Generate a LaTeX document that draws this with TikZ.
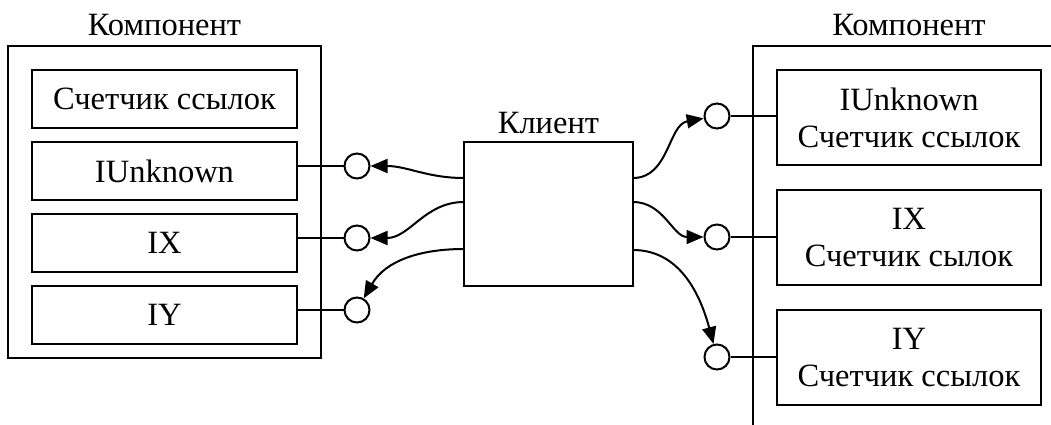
\documentclass[tikz,border=0pt]{standalone}
\usepackage{fontspec}
\setmainfont{Liberation Serif}
\usetikzlibrary{arrows.meta,calc}
\begin{document}
\begin{tikzpicture}[x=1pt,y=-1pt,
  every node/.style={font=\fontsize{32.5}{37}\selectfont},
  frame/.style={draw,line width=2.2pt,inner sep=0pt},
  box/.style={frame,minimum width=265pt,minimum height=58pt},
  rbox/.style={frame,minimum width=264pt,minimum height=95pt,align=center},
  port/.style={circle,draw,line width=2pt,inner sep=0pt,minimum size=25pt},
  wire/.style={line width=2pt},
  call/.style={line width=2pt,-{Triangle[length=17pt,width=14pt]}},
  title/.style={anchor=base,inner sep=0pt}]
\useasboundingbox (0,0) rectangle (1051,425);
% left component
\node[frame,minimum width=313pt,minimum height=312pt] (lc) at (164.5,202) {};
\node[title] (lt) at (164.5,36) {Компонент};
\node[box] (l1) at (164.5,99) {Счетчик ссылок};
\node[box] (l2) at (164.5,171) {IUnknown};
\node[box] (l3) at (164.5,243) {IX};
\node[box] (l4) at (164.5,315) {IY};
\node[port] (lp1) at (357,166) {};
\node[port] (lp2) at (357,238) {};
\node[port] (lp3) at (357,310) {};
\draw[wire] (lp1.west) -- (lp1.west -| l2.east);
\draw[wire] (lp2.west) -- (lp2.west -| l3.east);
\draw[wire] (lp3.west) -- (lp3.west -| l4.east);
% client
\node[frame,minimum width=169pt,minimum height=144pt] (cl) at (548.5,214) {};
\node[title] (clt) at (548.5,133) {Клиент};
\coordinate (cl1) at (464,178);
\coordinate (cl2) at (464,202);
\coordinate (cl3) at (464,249);
\coordinate (cr1) at (633,178);
\coordinate (cr2) at (633,202);
\coordinate (cr3) at (633,250);
% right component
\coordinate (rcb) at (753,425);
\coordinate (rct) at (753,46);
\coordinate (rcr) at (1051,46);
\draw[line width=2.2pt] (rcb) -- (rct) -- (rcr);
\node[title] (rt) at (909,36) {Компонент};
\node[rbox] (r1) at (909,117.5) {IUnknown\\Счетчик ссылок};
\node[rbox] (r2) at (909,237.5) {IX\\Счетчик сылок};
\node[rbox] (r3) at (909,357.5) {IY\\Счетчик ссылок};
\node[port] (rp1) at (717,116) {};
\node[port] (rp2) at (717,237) {};
\node[port] (rp3) at (717,357) {};
\draw[wire] (rp1.east) -- (rp1.east -| r1.west);
\draw[wire] (rp2.east) -- (rp2.east -| r2.west);
\draw[wire] (rp3.east) -- (rp3.east -| r3.west);
% calls
\draw[call] (cl1) to[out=180,in=0] (lp1);
\draw[call] (cl2) to[out=180,in=0] (lp2);
\draw[call] (cl3) to[out=180,in=60] (lp3);
\draw[call] (cr1) to[out=0,in=190] (rp1);
\draw[call] (cr2) to[out=0,in=180] (rp2);
\draw[call] (cr3) to[out=0,in=105] (rp3);
\end{tikzpicture}
\end{document}
